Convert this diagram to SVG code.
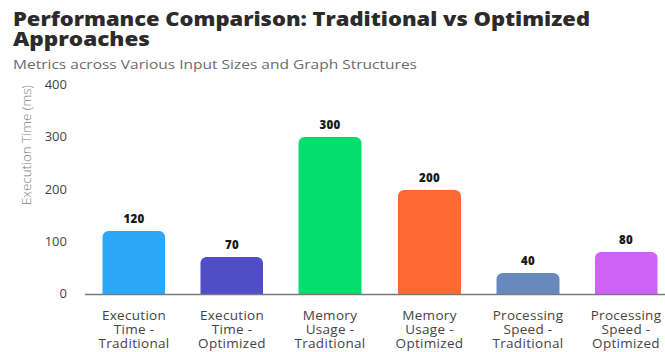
<svg xmlns="http://www.w3.org/2000/svg" width="665" height="352" viewBox="0 0 665 352">
  <style>
    .title { font-family: "Open Sans", "DejaVu Sans", sans-serif; font-weight: 800; font-size: 20px; fill: #2b2b2b; }
    .sub { font-family: "Open Sans", "Liberation Sans", sans-serif; font-size: 12.5px; fill: #6b6b6b; }
    .axis-title { font-family: "Open Sans", "Liberation Sans", sans-serif; font-size: 13px; fill: #7a7a7a; font-weight: 300; }
    .tick { font-family: "Open Sans", "Liberation Sans", sans-serif; font-size: 13px; fill: #444; text-anchor: end; }
    .val { font-family: "Open Sans", "Liberation Sans", sans-serif; font-weight: 800; font-size: 11.5px; fill: #1a1a1a; text-anchor: middle; letter-spacing: 0.3px; }
    .cat { font-family: "Open Sans", "Liberation Sans", sans-serif; font-size: 13.5px; fill: #444; text-anchor: middle; letter-spacing: 0.3px; }
  </style>
  <rect width="665" height="352" fill="#ffffff"/>

  <!-- headings -->
  <text class="title" x="13" y="26" textLength="577" lengthAdjust="spacingAndGlyphs">Performance Comparison: Traditional vs Optimized</text>
  <text class="title" x="13" y="46" textLength="137" lengthAdjust="spacingAndGlyphs">Approaches</text>
  <text class="sub" x="13" y="69" textLength="404" lengthAdjust="spacingAndGlyphs">Metrics across Various Input Sizes and Graph Structures</text>

  <!-- value axis -->
  <text class="axis-title" transform="translate(31,145) rotate(-90)" text-anchor="middle" textLength="120" lengthAdjust="spacingAndGlyphs">Execution Time (ms)</text>
  <g id="y-ticks">
    <text class="tick" x="67" y="89">400</text>
    <text class="tick" x="67" y="141">300</text>
    <text class="tick" x="67" y="194">200</text>
    <text class="tick" x="67" y="246">100</text>
    <text class="tick" x="67" y="298">0</text>
  </g>

  <!-- bars: 0 at y=294, 0.525 px per ms -->
  <g id="bar-exec-trad">
    <path d="M102.5,294 V237 a6,6 0 0 1 6,-6 H159 a6,6 0 0 1 6,6 V294 Z" fill="#2BA8F9"/>
    <text class="val" x="134" y="223">120</text>
  </g>
  <g id="bar-exec-opt">
    <path d="M200.5,294 V263 a6,6 0 0 1 6,-6 H257 a6,6 0 0 1 6,6 V294 Z" fill="#514DC6"/>
    <text class="val" x="232" y="249">70</text>
  </g>
  <g id="bar-mem-trad">
    <path d="M298.5,294 V143 a6,6 0 0 1 6,-6 H355.5 a6,6 0 0 1 6,6 V294 Z" fill="#03DE6F"/>
    <text class="val" x="330" y="129">300</text>
  </g>
  <g id="bar-mem-opt">
    <path d="M398,294 V196 a6,6 0 0 1 6,-6 H455 a6,6 0 0 1 6,6 V294 Z" fill="#FF6A33"/>
    <text class="val" x="429.5" y="182">200</text>
  </g>
  <g id="bar-proc-trad">
    <path d="M496.5,294 V279 a6,6 0 0 1 6,-6 H553.5 a6,6 0 0 1 6,6 V294 Z" fill="#6889BD"/>
    <text class="val" x="528" y="265">40</text>
  </g>
  <g id="bar-proc-opt">
    <path d="M595,294 V258 a6,6 0 0 1 6,-6 H651.5 a6,6 0 0 1 6,6 V294 Z" fill="#D063F7"/>
    <text class="val" x="626" y="244">80</text>
  </g>

  <!-- baseline -->
  <g id="connectors">
    <line x1="85" y1="294.5" x2="665" y2="294.5" stroke="#7a7a7a" stroke-width="1.5"/>
  </g>

  <!-- category labels -->
  <g id="categories">
    <text class="cat" x="134" y="320">Execution<tspan x="134" dy="14">Time -</tspan><tspan x="134" dy="14">Traditional</tspan></text>
    <text class="cat" x="232" y="320">Execution<tspan x="232" dy="14">Time -</tspan><tspan x="232" dy="14">Optimized</tspan></text>
    <text class="cat" x="330" y="320">Memory<tspan x="330" dy="14">Usage -</tspan><tspan x="330" dy="14">Traditional</tspan></text>
    <text class="cat" x="429.5" y="320">Memory<tspan x="429.5" dy="14">Usage -</tspan><tspan x="429.5" dy="14">Optimized</tspan></text>
    <text class="cat" x="528" y="320">Processing<tspan x="528" dy="14">Speed -</tspan><tspan x="528" dy="14">Traditional</tspan></text>
    <text class="cat" x="626" y="320">Processing<tspan x="626" dy="14">Speed -</tspan><tspan x="626" dy="14">Optimized</tspan></text>
  </g>
</svg>
